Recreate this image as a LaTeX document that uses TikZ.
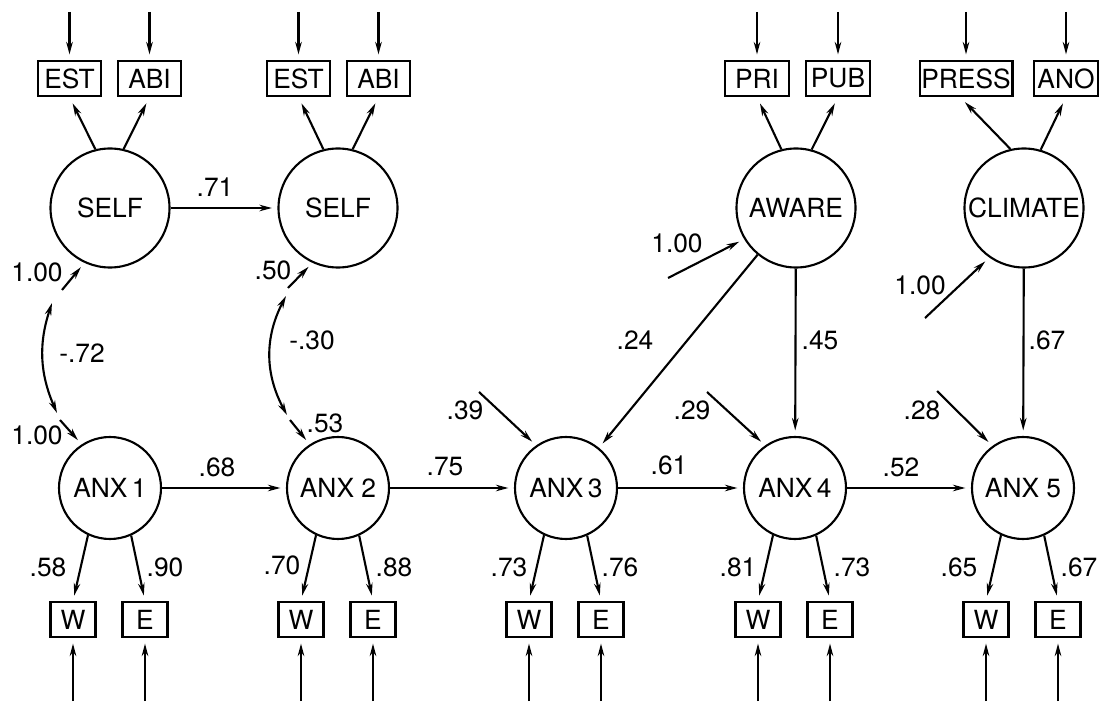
\documentclass[tikz,border=0pt]{standalone}
\usepackage{fontspec}
\setmainfont{TeX Gyre Heros}
\usetikzlibrary{arrows.meta,calc}
\newcommand{\semfont}{\fontsize{15}{18}\selectfont}

\begin{document}
\begin{tikzpicture}[
    latent/.style={circle, draw, line width=1.2pt, inner sep=0pt, font=\semfont},
    bigl/.style={latent, minimum size=2.38cm},
    smalll/.style={latent, minimum size=2.04cm},
    obs/.style={rectangle, draw, line width=1.2pt, minimum width=1.27cm, minimum height=0.7cm, inner sep=1pt, font=\semfont},
    ind/.style={obs, minimum width=0.9cm},
    coef/.style={inner sep=0pt, font=\semfont},
    arrow/.style={-{Stealth[length=2.5mm,width=1.3mm]}, line width=1.2pt, shorten >=1.1mm},
    darrow/.style={{Stealth[length=2.5mm,width=1.3mm]}-{Stealth[length=2.5mm,width=1.3mm]}, line width=1.2pt}
]
\useasboundingbox (0,0) rectangle (22.02,14.02);
\coordinate (topline) at (0,13.78);
\coordinate (botline) at (0,0);

\node[bigl] (self1) at (2.2,9.86) {SELF};
\node[bigl] (self2) at (6.76,9.86) {SELF};
\node[bigl] (aware) at (15.92,9.86) {AWARE};
\node[bigl] (clim) at (20.48,9.86) {CLIMATE};

\node[smalll] (anx1) at (2.2,4.26) {ANX\,1};
\node[smalll] (anx2) at (6.76,4.26) {ANX 2};
\node[smalll] (anx3) at (11.32,4.26) {ANX\,3};
\node[smalll] (anx4) at (15.9,4.26) {ANX\,4};
\node[smalll] (anx5) at (20.46,4.26) {ANX 5};

\node[obs] (est1) at (1.39,12.45) {EST};
\node[obs] (abi1) at (2.99,12.45) {ABI};
\node[obs] (est2) at (5.97,12.45) {EST};
\node[obs] (abi2) at (7.57,12.45) {ABI};
\node[obs] (pri) at (15.14,12.45) {PRI};
\node[obs] (pub) at (16.76,12.45) {PUB};
\node[obs] (press) at (19.32,12.45) {PRESS};
\node[obs] (ano) at (21.32,12.45) {ANO};

\node[ind] (w1) at (1.46,1.63) {W};
\node[ind] (e1) at (2.9,1.63) {E};
\node[ind] (w2) at (6.02,1.63) {W};
\node[ind] (e2) at (7.46,1.63) {E};
\node[ind] (w3) at (10.58,1.63) {W};
\node[ind] (e3) at (12.02,1.63) {E};
\node[ind] (w4) at (15.16,1.63) {W};
\node[ind] (e4) at (16.6,1.63) {E};
\node[ind] (w5) at (19.72,1.63) {W};
\node[ind] (e5) at (21.16,1.63) {E};

\coordinate (v1) at (1.24,8.22);
\coordinate (v2) at (1.2,5.62);
\coordinate (c1a) at (1.04,7.96);
\coordinate (c1b) at (1.14,5.76);
\coordinate (v3) at (5.76,8.26);
\coordinate (v4) at (5.8,5.62);
\coordinate (c2a) at (5.72,8.1);
\coordinate (c2b) at (5.74,5.72);
\coordinate (daw) at (13.36,8.46);
\coordinate (dcl) at (18.5,7.66);
\coordinate (d3) at (9.58,6.18);
\coordinate (d4) at (14.14,6.18);
\coordinate (d5) at (18.74,6.2);

\draw[arrow] (est1 |- topline) -- (est1);
\draw[arrow] (abi1 |- topline) -- (abi1);
\draw[arrow] (est2 |- topline) -- (est2);
\draw[arrow] (abi2 |- topline) -- (abi2);
\draw[arrow] (pri |- topline) -- (pri);
\draw[arrow] (pub |- topline) -- (pub);
\draw[arrow] (press |- topline) -- (press);
\draw[arrow] (ano |- topline) -- (ano);

\draw[arrow, shorten >=1.4mm] (self1.104) -- (est1.south);
\draw[arrow, shorten >=1.4mm] (self1.77) -- (abi1.south);
\draw[arrow, shorten >=1.4mm] (self2.104) -- (est2.south);
\draw[arrow, shorten >=1.4mm] (self2.76) -- (abi2.south);
\draw[arrow, shorten >=1.4mm] (aware.104) -- (pri.south);
\draw[arrow, shorten >=1.4mm] (aware.75) -- (pub.south);
\draw[arrow, shorten >=1.4mm] (clim.103) -- ([xshift=-0.12cm]press.south);
\draw[arrow, shorten >=1.4mm] (clim.74) -- (ano.south);

\draw[arrow] (self1) -- (self2);
\draw[arrow] (v1) -- (self1.245);
\draw[arrow] (v2) -- (anx1.123);
\draw[darrow] (c1a) to[bend right=21] (c1b);
\draw[arrow] (v3) -- (self2.245);
\draw[arrow] (v4) -- (anx2.123);
\draw[darrow] (c2a) to[bend right=28] (c2b);

\draw[arrow] (daw) -- (aware.211);
\draw[arrow] (dcl) -- (clim.235);
\draw[arrow] (aware) -- (anx3);
\draw[arrow] (aware) -- (anx4);
\draw[arrow] (clim) -- (anx5);
\draw[arrow] (d3) -- (anx3.125);
\draw[arrow] (d4) -- (anx4.125);
\draw[arrow] (d5) -- (anx5.126);

\draw[arrow] (anx1) -- (anx2);
\draw[arrow] (anx2) -- (anx3);
\draw[arrow] (anx3) -- (anx4);
\draw[arrow] (anx4) -- (anx5);

\draw[arrow] (anx1.245) -- (w1.north);
\draw[arrow] (anx1.294) -- (e1.north);
\draw[arrow] (anx2.245) -- (w2.north);
\draw[arrow] (anx2.294) -- (e2.north);
\draw[arrow] (anx3.245) -- (w3.north);
\draw[arrow] (anx3.294) -- (e3.north);
\draw[arrow] (anx4.245) -- (w4.north);
\draw[arrow] (anx4.294) -- (e4.north);
\draw[arrow] (anx5.245) -- (w5.north);
\draw[arrow] (anx5.294) -- (e5.north);

\draw[arrow] (w1 |- botline) -- (w1);
\draw[arrow] (e1 |- botline) -- (e1);
\draw[arrow] (w2 |- botline) -- (w2);
\draw[arrow] (e2 |- botline) -- (e2);
\draw[arrow] (w3 |- botline) -- (w3);
\draw[arrow] (e3 |- botline) -- (e3);
\draw[arrow] (w4 |- botline) -- (w4);
\draw[arrow] (e4 |- botline) -- (e4);
\draw[arrow] (w5 |- botline) -- (w5);
\draw[arrow] (e5 |- botline) -- (e5);

\node[coef] (l71) at (4.3,10.28) {.71};
\node[coef] (lv1) at (0.74,8.58) {1.00};
\node[coef] (lc1) at (1.64,6.96) {-.72};
\node[coef] (lv2) at (0.74,5.32) {1.00};
\node[coef] (lv3) at (5.46,8.62) {.50};
\node[coef] (lc2) at (6.24,7.22) {-.30};
\node[coef] (lv4) at (6.5,5.56) {.53};
\node[coef] (law) at (13.54,9.16) {1.00};
\node[coef] (l24) at (12.7,7.22) {.24};
\node[coef] (l45) at (16.4,7.22) {.45};
\node[coef] (lcl) at (18.4,8.32) {1.00};
\node[coef] (l67c) at (20.94,7.22) {.67};
\node[coef] (l39) at (9.3,5.82) {.39};
\node[coef] (l29) at (13.84,5.82) {.29};
\node[coef] (l28) at (18.44,5.82) {.28};
\node[coef] (l68) at (4.34,4.68) {.68};
\node[coef] (l75) at (8.9,4.68) {.75};
\node[coef] (l61) at (13.38,4.72) {.61};
\node[coef] (l52) at (18.02,4.68) {.52};
\node[coef] (l58) at (0.96,2.68) {.58};
\node[coef] (l90) at (3.3,2.68) {.90};
\node[coef] (l70) at (5.64,2.72) {.70};
\node[coef] (l88) at (7.88,2.68) {.88};
\node[coef] (l73a) at (10.18,2.68) {.73};
\node[coef] (l76) at (12.4,2.68) {.76};
\node[coef] (l81) at (14.76,2.68) {.81};
\node[coef] (l73b) at (17.04,2.68) {.73};
\node[coef] (l65) at (19.18,2.68) {.65};
\node[coef] (l67) at (21.58,2.68) {.67};
\end{tikzpicture}
\end{document}
